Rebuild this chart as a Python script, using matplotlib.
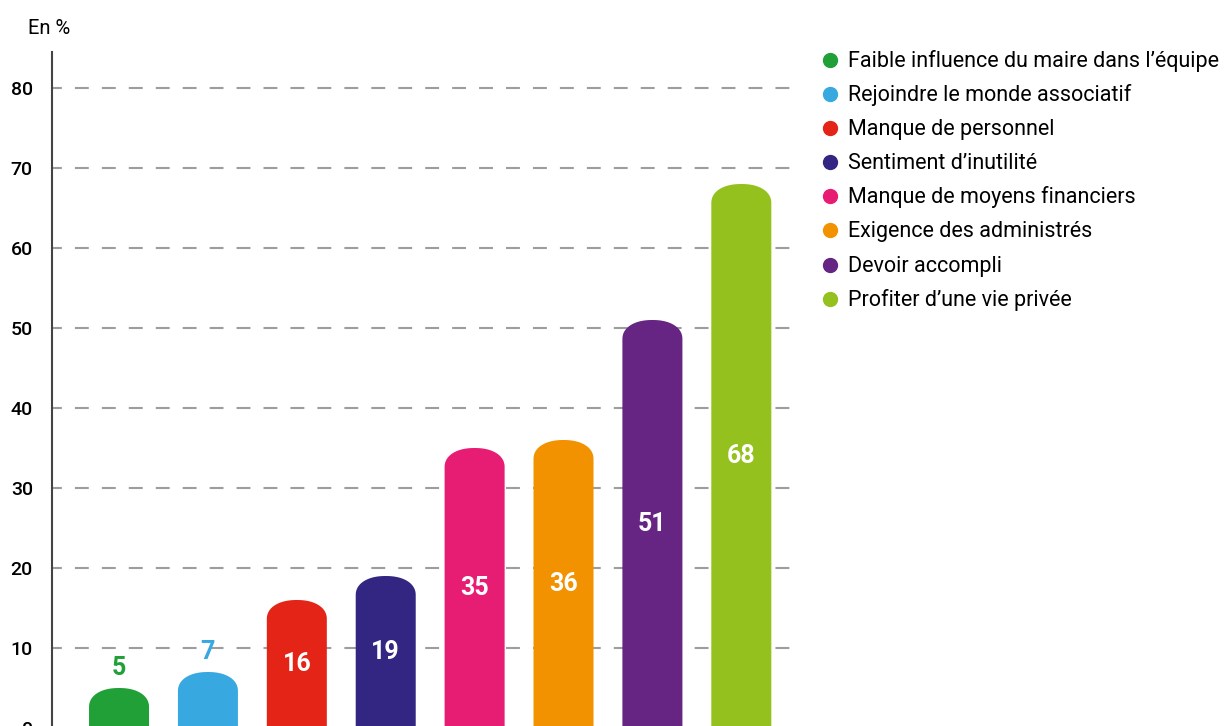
import numpy as np
import matplotlib
matplotlib.use("Agg")
import matplotlib.pyplot as plt
from matplotlib.lines import Line2D

categories = ["Faible influence du maire dans l\u2019équipe",
              "Rejoindre le monde associatif",
              "Manque de personnel",
              "Sentiment d\u2019inutilité",
              "Manque de moyens financiers",
              "Exigence des administrés",
              "Devoir accompli",
              "Profiter d\u2019une vie privée"]
values = [5, 7, 16, 19, 35, 36, 51, 68]
colors = ["#21A038", "#38A9E0", "#E32416", "#322682",
          "#E71D73", "#F39200", "#662483", "#95C11F"]
yticks = [0, 10, 20, 30, 40, 50, 60, 70, 80]

plt.rcParams['font.family'] = ['Roboto', 'DejaVu Sans']
plt.rcParams['lines.scale_dashes'] = False

W, H, DPI = 1226, 726, 100
fig = plt.figure(figsize=(W / DPI, H / DPI), dpi=DPI)
ax = fig.add_axes([52 / W, (H - 744) / H, (795 - 52) / W, (744 - 52) / H])
ax.set_xlim(-0.754, 7.604)
ax.set_ylim(-2, 84.5)

bw = 0.675
cap = 2.4
nexp = 2.2
t = np.linspace(0, np.pi, 121)
cx = np.sign(np.cos(t)) * np.abs(np.cos(t)) ** (2 / nexp)
cy = np.abs(np.sin(t)) ** (2 / nexp)
for i, (v, c) in enumerate(zip(values, colors)):
    base = v - cap
    xs = np.concatenate([[i + bw / 2], i + bw / 2 * cx, [i - bw / 2]])
    ys = np.concatenate([[-5], base + cap * cy, [-5]])
    ax.fill(xs, ys, color=c, linewidth=0, zorder=2)
    if v < 10:
        ax.text(i, v + 2.5, str(v), ha='center', va='center', color=c,
                fontsize=18, fontweight='bold', zorder=3)
    else:
        ax.text(i, v / 2, str(v), ha='center', va='center', color='white',
                fontsize=18, fontweight='bold', zorder=3)

ax.set_yticks(yticks)
ax.set_yticklabels([str(t) for t in yticks], fontsize=14, fontweight='medium')
ax.set_xticks([])
ax.tick_params(axis='y', length=0, pad=13.7)
ax.set_axisbelow(True)
ax.yaxis.grid(True, color='#9d9d9d', linewidth=1.5, linestyle=(2.9, (10, 9.4)))
for s in ['top', 'right', 'bottom']:
    ax.spines[s].set_visible(False)
ax.spines['left'].set_color('#444444')
ax.spines['left'].set_linewidth(1.5)

fig.text(28 / W, 1 - 28 / H, "En %", fontsize=14.5, va='center', ha='left')

for i, (lab, c) in enumerate(zip(categories, colors)):
    yc = 60 + 34.1 * i
    fig.add_artist(Line2D([830 / W], [1 - yc / H], marker='o', markersize=10,
                          color=c, linestyle='none', transform=fig.transFigure))
    fig.text(848 / W, 1 - (yc + 7) / H, lab, fontsize=15.5, va='baseline', ha='left')

fig.savefig("out.png", dpi=DPI)
